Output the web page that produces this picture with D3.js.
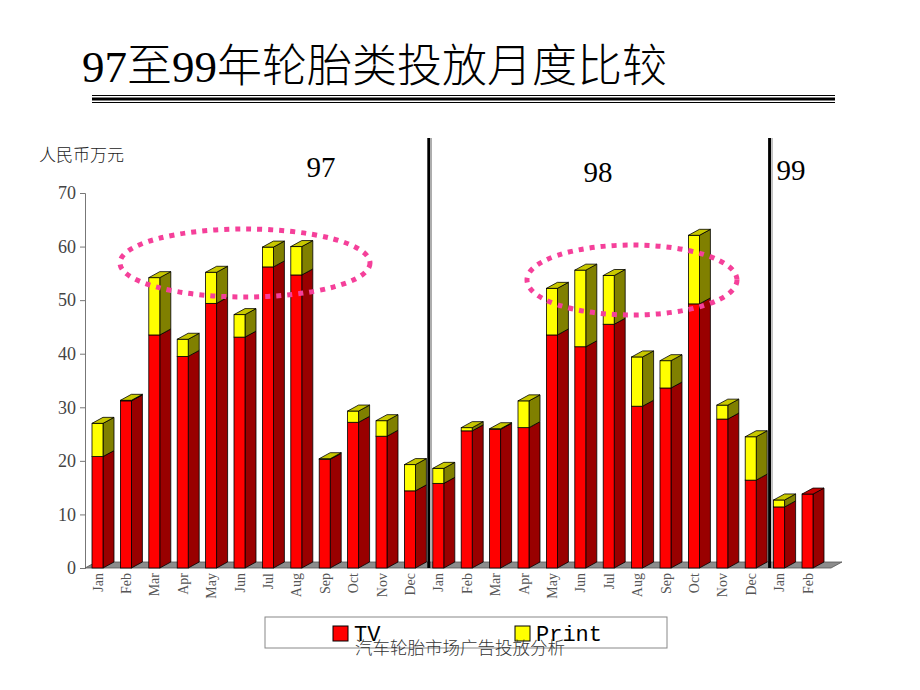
<!DOCTYPE html>
<html>
<head>
<meta charset="utf-8">
<script src="https://cdn.jsdelivr.net/npm/d3@7"></script>
<style>
  body { margin: 0; background: #fff; }
  svg { display: block; }
</style>
</head>
<body>
<div id="chart"></div>
<script>
// months shown on the x axis, 97 Jan .. 99 Feb
const months = ["Jan","Feb","Mar","Apr","May","Jun","Jul","Aug","Sep","Oct","Nov","Dec",
                "Jan","Feb","Mar","Apr","May","Jun","Jul","Aug","Sep","Oct","Nov","Dec",
                "Jan","Feb"];
const tvValues    = [20.8, 31.2, 43.5, 39.5, 49.4, 43.1, 56.2, 54.7, 20.3, 27.2, 24.6, 14.4,
                     15.8, 25.6, 25.9, 26.2, 43.5, 41.3, 45.5, 30.2, 33.6, 49.3, 27.8, 16.4,
                     11.4, 13.8];
const printValues = [6.2, 0.1, 10.7, 3.2, 5.8, 4.2, 3.7, 5.3, 0.1, 2.1, 2.9, 4.9,
                     2.8, 0.6, 0.1, 5.0, 8.7, 14.3, 9.1, 9.2, 5.1, 12.8, 2.6, 8.1,
                     1.3, 0];
const yTicks = [0, 10, 20, 30, 40, 50, 60, 70];
const years = [
  { label: "97", start: 0 },
  { label: "98", start: 12 },
  { label: "99", start: 24 }
];
const seriesNames = ["TV", "Print"];

const width = 920, height = 690;
const barW = 11, dx = 11, dy = 6;

const svg = d3.select("#chart").append("svg")
  .attr("width", width)
  .attr("height", height);

// title
svg.append("text")
  .attr("x", 82).attr("y", 82)
  .attr("font-family", "'Liberation Serif', 'Noto Sans CJK SC', serif")
  .attr("font-size", 45)
  .attr("font-weight", 300)
  .attr("fill", "#000")
  .text("97至99年轮胎类投放月度比较");

// triple rule under the title
[[95.5, 1], [99, 3], [102.5, 1]].forEach(([y, w]) => {
  svg.append("line")
    .attr("x1", 92).attr("x2", 835)
    .attr("y1", y).attr("y2", y)
    .attr("stroke", "#000").attr("stroke-width", w);
});

const xScale = d3.scaleLinear().domain([0, months.length - 1]).range([92, 802]);
const yScale = d3.scaleLinear().domain([0, 70]).range([568, 193]);

// y axis
const yAxis = d3.axisLeft(yScale).tickValues(yTicks).tickSize(5).tickPadding(4);
const gY = svg.append("g")
  .attr("transform", "translate(85,0)")
  .call(yAxis);
gY.select(".domain").attr("stroke", "#777");
gY.selectAll(".tick line").attr("stroke", "#777");
gY.selectAll(".tick text")
  .attr("font-family", "'Liberation Serif', serif")
  .attr("font-size", 18)
  .attr("fill", "#444");

svg.append("text")
  .attr("x", 39).attr("y", 161)
  .attr("font-family", "'Noto Sans CJK SC', sans-serif")
  .attr("font-size", 17)
  .attr("font-weight", 300)
  .attr("fill", "#222")
  .text("人民币万元");

// floor
const y0 = yScale(0);
const floorRight = xScale(months.length - 1) + barW + 18;
svg.append("path")
  .attr("d", `M85,${y0} L${85 + dx},${y0 - dy} L${floorRight + dx},${y0 - dy} L${floorRight},${y0} Z`)
  .attr("fill", "#8c8c8c")
  .attr("stroke", "#555")
  .attr("stroke-width", 0.8);

// stacked 3d bars
const stacked = months.map((m, i) => {
  const tv = tvValues[i], pr = printValues[i];
  return [
    { i, lo: 0, hi: tv, s: 0 },
    { i, lo: tv, hi: tv + pr, s: 1 }
  ].filter(d => d.hi > d.lo);
}).flat();

const frontColor = ["#ff0000", "#ffff00"];
const sideColor  = ["#990000", "#808000"];
const topColor   = ["#c80000", "#c8c800"];

const bars = svg.selectAll("g.bar")
  .data(stacked)
  .enter().append("g")
  .attr("class", "bar");

bars.append("path")
  .attr("d", d => {
    const x = xScale(d.i) + barW, yt = yScale(d.hi), yb = yScale(d.lo);
    return `M${x},${yb} L${x + dx},${yb - dy} L${x + dx},${yt - dy} L${x},${yt} Z`;
  })
  .attr("fill", d => sideColor[d.s])
  .attr("stroke", "#000").attr("stroke-width", 0.8);

bars.append("rect")
  .attr("x", d => xScale(d.i))
  .attr("y", d => yScale(d.hi))
  .attr("width", barW)
  .attr("height", d => yScale(d.lo) - yScale(d.hi))
  .attr("fill", d => frontColor[d.s])
  .attr("stroke", "#000").attr("stroke-width", 0.8);

// top face of the highest segment of each month
const tops = months.map((m, i) => stacked.filter(d => d.i === i).pop());
svg.selectAll("path.top")
  .data(tops)
  .enter().append("path")
  .attr("class", "top")
  .attr("d", d => {
    const x = xScale(d.i), yt = yScale(d.hi);
    return `M${x},${yt} L${x + dx},${yt - dy} L${x + barW + dx},${yt - dy} L${x + barW},${yt} Z`;
  })
  .attr("fill", d => topColor[d.s])
  .attr("stroke", "#000").attr("stroke-width", 0.8);

// month labels
svg.selectAll("text.month")
  .data(months)
  .enter().append("text")
  .attr("class", "month")
  .attr("transform", (d, i) => `translate(${xScale(i) + barW / 2 + 5},${y0 + 5}) rotate(-90)`)
  .attr("text-anchor", "end")
  .attr("font-family", "'Liberation Serif', serif")
  .attr("font-size", 14)
  .attr("fill", "#555")
  .text(d => d);

// year separators and labels
years.slice(1).forEach(yr => {
  const sx = xScale(yr.start) - 4;
  svg.append("line")
    .attr("x1", sx).attr("x2", sx).attr("y1", 138).attr("y2", y0)
    .attr("stroke", "#000").attr("stroke-width", 3);
  svg.append("line")
    .attr("x1", sx + 2.5).attr("x2", sx + 2.5).attr("y1", 138).attr("y2", y0)
    .attr("stroke", "#999").attr("stroke-width", 1);
});
const yearPos = [[321, 177], [598, 182], [791, 180]];
years.forEach((yr, k) => {
  svg.append("text")
    .attr("x", yearPos[k][0]).attr("y", yearPos[k][1])
    .attr("text-anchor", "middle")
    .attr("font-family", "'Liberation Serif', serif")
    .attr("font-size", 29)
    .attr("fill", "#000")
    .text(yr.label);
});

// dotted highlight ellipses
[[245, 263, 125, 34], [632, 280, 105, 35]].forEach(([cx, cy, rx, ry]) => {
  svg.append("ellipse")
    .attr("cx", cx).attr("cy", cy).attr("rx", rx).attr("ry", ry)
    .attr("fill", "none")
    .attr("stroke", "#f5409a")
    .attr("stroke-width", 5)
    .attr("stroke-dasharray", "5,6");
});

// legend
svg.append("rect")
  .attr("x", 265).attr("y", 617).attr("width", 402).attr("height", 31)
  .attr("fill", "#fff").attr("stroke", "#888").attr("stroke-width", 1);
const legendX = [333, 515];
seriesNames.forEach((name, k) => {
  svg.append("rect")
    .attr("x", legendX[k]).attr("y", 626).attr("width", 15).attr("height", 15)
    .attr("fill", frontColor[k]).attr("stroke", "#000").attr("stroke-width", 1);
  svg.append("text")
    .attr("x", legendX[k] + 21).attr("y", 641)
    .attr("font-family", "'Liberation Mono', monospace")
    .attr("font-size", 22)
    .attr("fill", "#000")
    .text(name);
});

// footer (overlaps the legend box, as in the original slide)
svg.append("text")
  .attr("x", 460).attr("y", 654)
  .attr("text-anchor", "middle")
  .attr("font-family", "'Noto Sans CJK SC', sans-serif")
  .attr("font-size", 17.5)
  .attr("font-weight", 300)
  .attr("fill", "#333")
  .text("汽车轮胎市场广告投放分析");
</script>
</body>
</html>
